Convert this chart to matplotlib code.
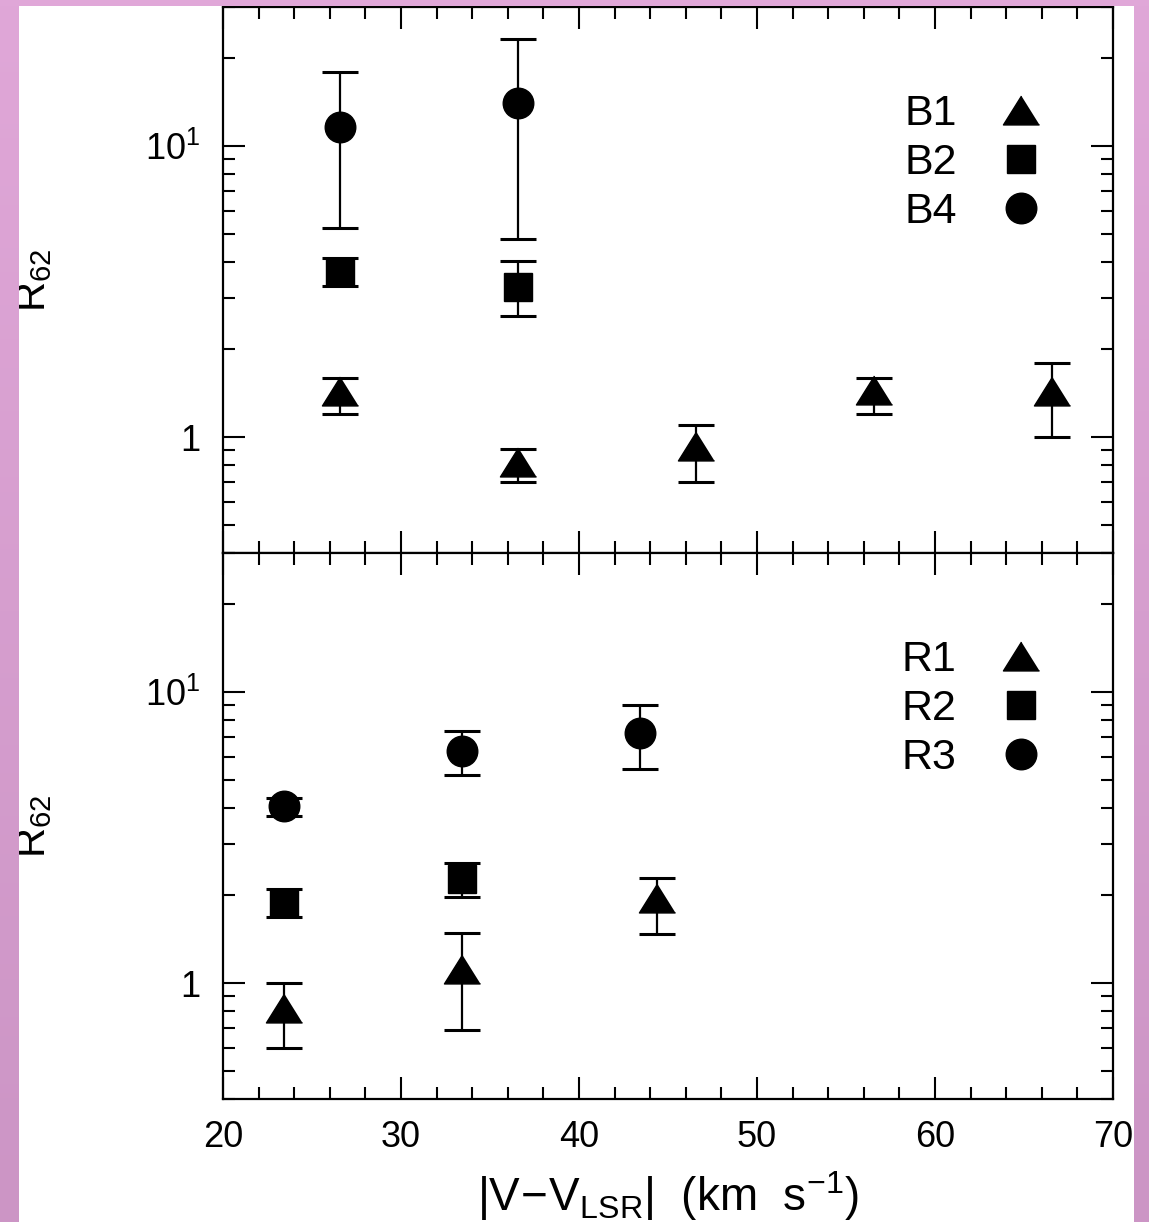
import numpy as np
import matplotlib
matplotlib.use("Agg")
import matplotlib.pyplot as plt
from matplotlib.ticker import MultipleLocator, LogLocator, FuncFormatter, NullFormatter

plt.rcParams['font.family'] = ['Liberation Sans', 'DejaVu Sans']
plt.rcParams['mathtext.fontset'] = 'custom'
plt.rcParams['mathtext.rm'] = 'Liberation Sans'
plt.rcParams['mathtext.it'] = 'Liberation Sans'

# upper panel (B positions)
b1_x = [26.6, 36.6, 46.6, 56.6, 66.6]
b1_y = [1.44, 0.82, 0.93, 1.45, 1.44]
b1_lo = [1.20, 0.70, 0.70, 1.20, 1.00]
b1_hi = [1.60, 0.91, 1.10, 1.60, 1.80]
b2_x = [26.6, 36.6]
b2_y = [3.70, 3.28]
b2_lo = [3.30, 2.61]
b2_hi = [4.11, 4.02]
b4_x = [26.6, 36.6]
b4_y = [11.65, 14.0]
b4_lo = [5.23, 4.79]
b4_hi = [18.0, 23.3]

# lower panel (R positions)
r1_x = [23.4, 33.4, 44.4]
r1_y = [0.82, 1.12, 1.96]
r1_lo = [0.60, 0.69, 1.48]
r1_hi = [1.00, 1.49, 2.29]
r2_x = [23.4, 33.4]
r2_y = [1.88, 2.28]
r2_lo = [1.69, 1.98]
r2_hi = [2.10, 2.59]
r3_x = [23.4, 33.4, 43.4]
r3_y = [4.06, 6.25, 7.23]
r3_lo = [3.74, 5.17, 5.44]
r3_hi = [4.33, 7.33, 9.05]

top_labels = ['B1', 'B2', 'B4']
bot_labels = ['R1', 'R2', 'R3']

W, H = 1149, 1222
fig = plt.figure(figsize=(W / 100, H / 100), dpi=100)
fig.patch.set_facecolor('white')

tri = [(0, 0.8), (-1, -0.8), (1, -0.8)]
styles = [dict(marker=tri, ms=26), dict(marker='s', ms=19.5), dict(marker='o', ms=22)]


def draw_series(ax, x, y, lo, hi, st):
    y = np.array(y)
    err = [y - np.array(lo), np.array(hi) - y]
    ax.errorbar(x, y, yerr=err, fmt='none', ecolor='black', elinewidth=1.6,
                capsize=13, capthick=2.2)
    ln, = ax.plot(x, y, ls='none', color='black', mec='black', zorder=5, **st)
    return ln


def style_axes(ax):
    ax.set_yscale('log')
    ax.set_xlim(20, 70)
    ax.set_ylim(0.4, 30)
    ax.xaxis.set_major_locator(MultipleLocator(10))
    ax.xaxis.set_minor_locator(MultipleLocator(2))
    ax.yaxis.set_major_locator(LogLocator(base=10, numticks=10))
    ax.yaxis.set_minor_locator(LogLocator(base=10, subs=np.arange(2, 10), numticks=20))
    ax.yaxis.set_major_formatter(FuncFormatter(
        lambda v, p: '1' if abs(v - 1) < 1e-9 else r'$\mathregular{10^{%d}}$' % round(np.log10(v))))
    ax.yaxis.set_minor_formatter(NullFormatter())
    ax.tick_params(which='both', direction='in', top=True, right=True, width=1.5,
                   labelsize=26, color='black')
    ax.tick_params(which='major', length=16)
    ax.tick_params(which='minor', length=8.5)
    ax.tick_params(axis='y', pad=16)
    ax.tick_params(axis='x', pad=15)
    for s in ax.spines.values():
        s.set_linewidth(1.6)
    ax.set_ylabel(r'$\mathregular{R_{62}}$', fontsize=30)
    ax.yaxis.set_label_coords(-0.19, 0.5)


ax1 = fig.add_axes([223 / W, 1 - 553 / H, 890 / W, 546 / H])
ax2 = fig.add_axes([223 / W, 1 - 1099 / H, 890 / W, 546 / H])

h1 = [draw_series(ax1, b1_x, b1_y, b1_lo, b1_hi, styles[0]),
      draw_series(ax1, b2_x, b2_y, b2_lo, b2_hi, styles[1]),
      draw_series(ax1, b4_x, b4_y, b4_lo, b4_hi, styles[2])]
h2 = [draw_series(ax2, r1_x, r1_y, r1_lo, r1_hi, styles[0]),
      draw_series(ax2, r2_x, r2_y, r2_lo, r2_hi, styles[1]),
      draw_series(ax2, r3_x, r3_y, r3_lo, r3_hi, styles[2])]

for ax, hs, labs in [(ax1, h1, top_labels), (ax2, h2, bot_labels)]:
    style_axes(ax)
    ax.legend(hs, labs, loc='upper right', bbox_to_anchor=(0.921, 0.84), frameon=False,
              markerfirst=False, fontsize=31, handlelength=1.0, handletextpad=1.0,
              labelspacing=0.2, borderpad=0, borderaxespad=0, numpoints=1)

ax1.tick_params(labelbottom=False)
ax2.set_xlabel(r'$\mathregular{|V\!-\!V_{LSR}|\ \ (km\ \ s^{-1})}$', fontsize=33, labelpad=10)

# pinkish frame around the white page
top_c = np.array([224, 167, 216]) / 255
bot_c = np.array([204, 149, 197]) / 255
t = np.linspace(0, 1, 256)[:, None, None]
grad = top_c * (1 - t) + bot_c * t
for rect in [[0, 0, 19 / W, 1], [1134 / W, 0, 15 / W, 1]]:
    a = fig.add_axes(rect, zorder=10)
    a.imshow(grad, aspect='auto')
    a.axis('off')
a = fig.add_axes([0, 1 - 6 / H, 1, 6 / H], zorder=10)
a.imshow(np.tile(top_c, (1, 2, 1)), aspect='auto')
a.axis('off')

fig.savefig('out.png', dpi=100)
